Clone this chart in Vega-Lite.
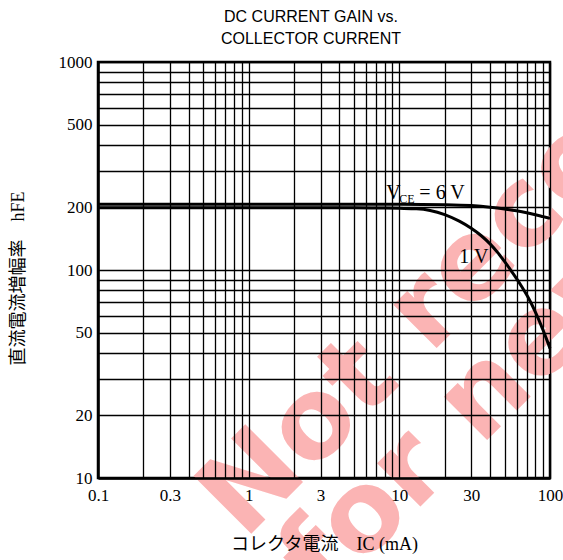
{
  "$schema": "https://vega.github.io/schema/vega-lite/v6.json",
  "autosize": {"type": "none"},
  "padding": {"left": 98, "top": 62, "right": 13, "bottom": 82},
  "width": 452,
  "height": 416,
  "background": "white",
  "config": {
    "view": {"stroke": "black", "strokeWidth": 2.5},
    "axis": {"zindex": 1}
  },
  "title": {
    "text": ["DC CURRENT GAIN vs.", "COLLECTOR CURRENT"],
    "font": "Liberation Sans",
    "fontSize": 16,
    "fontWeight": "normal",
    "color": "black",
    "lineHeight": 22,
    "anchor": "middle",
    "frame": "group",
    "baseline": "bottom",
    "dx": -13,
    "offset": -10
  },
  "encoding": {
    "x": {
      "field": "x",
      "type": "quantitative",
      "scale": {"type": "log", "domain": [0.1, 100], "nice": false},
      "title": "コレクタ電流　IC (mA)",
      "axis": {
        "zindex": 2,
        "values": [0.1, 0.2, 0.3, 0.4, 0.5, 0.6, 0.7, 0.8, 0.9, 1, 2, 3, 4, 5, 6, 7, 8, 9, 10, 20, 30, 40, 50, 60, 70, 80, 90, 100],
        "format": "~g",
        "labelExpr": "indexof([0.1, 0.3, 1, 3, 10, 30, 100], datum.value) >= 0 ? datum.label : ''",
        "labelOverlap": false,
        "labelFlush": false,
        "ticks": false,
        "grid": true,
        "gridColor": "black",
        "gridWidth": 1.3,
        "gridOpacity": 1,
        "domainColor": "black",
        "domainWidth": 2.5,
        "labelFont": "Liberation Serif",
        "labelFontSize": 17,
        "labelColor": "black",
        "labelPadding": 9,
        "titleFont": "Liberation Serif, Noto Sans CJK JP",
        "titleFontSize": 18,
        "titleFontWeight": "normal",
        "titleColor": "black",
        "titlePadding": 32
      }
    },
    "y": {
      "field": "y",
      "type": "quantitative",
      "scale": {"type": "log", "domain": [10, 1000], "nice": false},
      "title": "直流電流増幅率　hFE",
      "axis": {
        "zindex": 2,
        "values": [10, 20, 30, 40, 50, 60, 70, 80, 90, 100, 200, 300, 400, 500, 600, 700, 800, 900, 1000],
        "format": "d",
        "labelExpr": "indexof([10, 20, 50, 100, 200, 500, 1000], datum.value) >= 0 ? datum.label : ''",
        "labelOverlap": false,
        "labelFlush": false,
        "ticks": false,
        "grid": true,
        "gridColor": "black",
        "gridWidth": 1.3,
        "gridOpacity": 1,
        "domainColor": "black",
        "domainWidth": 2.5,
        "labelFont": "Liberation Serif",
        "labelFontSize": 17,
        "labelColor": "black",
        "labelPadding": 6,
        "titleFont": "Liberation Serif, Noto Sans CJK JP",
        "titleFontSize": 18,
        "titleFontWeight": "normal",
        "titleColor": "black",
        "titlePadding": 31,
        "titleY": 216
      }
    }
  },
  "layer": [
    {
      "data": {"values": [
        {"x": 0.931, "y": 4.98, "t": "Not reco"},
        {"x": 3.21, "y": 2.53, "t": "for new"}
      ]},
      "mark": {"type": "text", "angle": -45, "align": "left", "baseline": "alphabetic", "font": "DejaVu Sans", "fontWeight": "bold", "fontSize": 112, "color": "#fbb4b4", "zindex": 0},
      "encoding": {"text": {"field": "t"}}
    },
    {
      "data": {"values": [
        {"s": "6V", "x": 0.1, "y": 207},
        {"s": "6V", "x": 1, "y": 207},
        {"s": "6V", "x": 10, "y": 207},
        {"s": "6V", "x": 20, "y": 206},
        {"s": "6V", "x": 30, "y": 204},
        {"s": "6V", "x": 40, "y": 200.5},
        {"s": "6V", "x": 50, "y": 196.5},
        {"s": "6V", "x": 60, "y": 192.5},
        {"s": "6V", "x": 70, "y": 188.5},
        {"s": "6V", "x": 80, "y": 184.5},
        {"s": "6V", "x": 90, "y": 180.5},
        {"s": "6V", "x": 100, "y": 177},
        {"s": "1V", "x": 0.1, "y": 199},
        {"s": "1V", "x": 1, "y": 199},
        {"s": "1V", "x": 5, "y": 199},
        {"s": "1V", "x": 8, "y": 198.6},
        {"s": "1V", "x": 10, "y": 198},
        {"s": "1V", "x": 13, "y": 197},
        {"s": "1V", "x": 16, "y": 193.4},
        {"s": "1V", "x": 20, "y": 184.7},
        {"s": "1V", "x": 25, "y": 171.7},
        {"s": "1V", "x": 30, "y": 158.7},
        {"s": "1V", "x": 35, "y": 146.1},
        {"s": "1V", "x": 40, "y": 133.5},
        {"s": "1V", "x": 45, "y": 121.2},
        {"s": "1V", "x": 50, "y": 109.6},
        {"s": "1V", "x": 55, "y": 99.6},
        {"s": "1V", "x": 60, "y": 90.9},
        {"s": "1V", "x": 65, "y": 83.1},
        {"s": "1V", "x": 70, "y": 76},
        {"s": "1V", "x": 75, "y": 69.2},
        {"s": "1V", "x": 80, "y": 62.7},
        {"s": "1V", "x": 85, "y": 56.8},
        {"s": "1V", "x": 90, "y": 51.3},
        {"s": "1V", "x": 95, "y": 46.4},
        {"s": "1V", "x": 100, "y": 42}
      ]},
      "mark": {"type": "line", "color": "black", "strokeWidth": 3, "interpolate": "monotone", "zindex": 3},
      "encoding": {"detail": {"field": "s"}}
    },
    {
      "data": {"values": [
        {"x": 8.2, "y": 220, "t": "V"},
        {"x": 25, "y": 108, "t": "1 V"}
      ]},
      "mark": {"type": "text", "align": "left", "baseline": "alphabetic", "font": "Liberation Serif", "fontSize": 20, "color": "black", "zindex": 3},
      "encoding": {"text": {"field": "t"}}
    },
    {
      "data": {"values": [{"x": 8.2, "y": 220, "t": "CE"}]},
      "mark": {"type": "text", "align": "left", "baseline": "alphabetic", "font": "Liberation Serif", "fontSize": 12, "color": "black", "dx": 13, "dy": 4, "zindex": 3},
      "encoding": {"text": {"field": "t"}}
    },
    {
      "data": {"values": [{"x": 8.2, "y": 220, "t": "= 6 V"}]},
      "mark": {"type": "text", "align": "left", "baseline": "alphabetic", "font": "Liberation Serif", "fontSize": 20, "color": "black", "dx": 33, "zindex": 3},
      "encoding": {"text": {"field": "t"}}
    }
  ]
}
